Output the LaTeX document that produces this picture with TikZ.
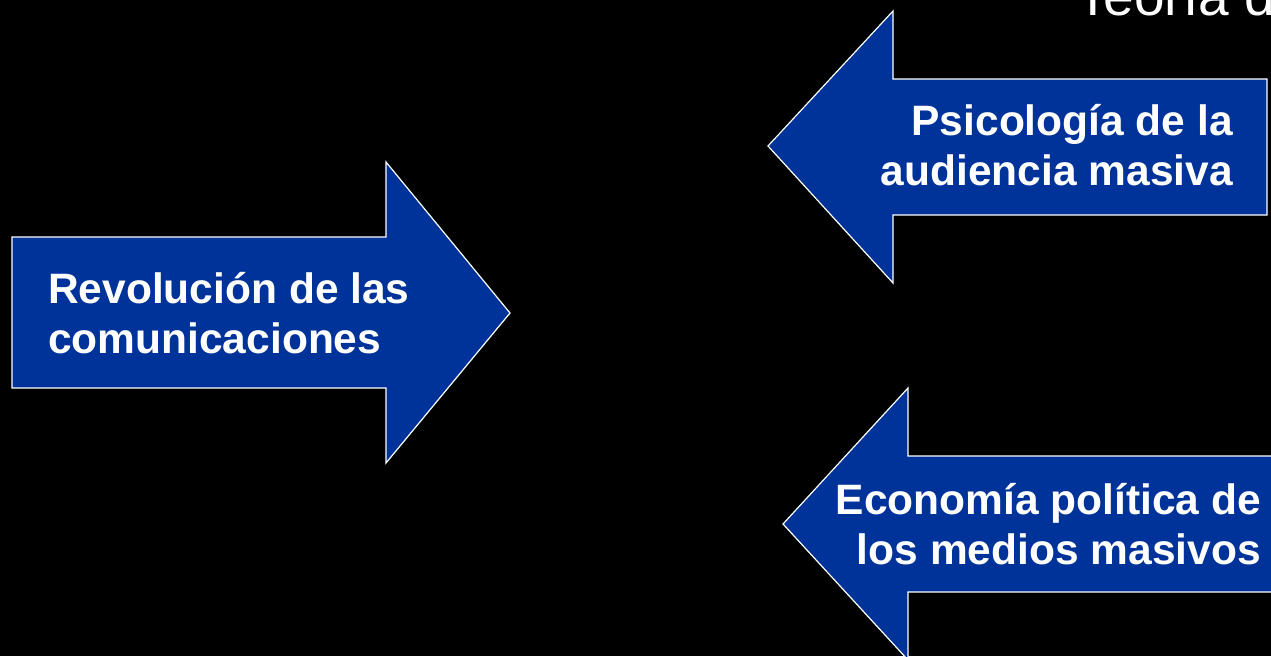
\documentclass[tikz,border=0pt]{standalone}
\usepackage{fontspec}
\setmainfont{Liberation Sans}
\usetikzlibrary{positioning}

\definecolor{arrowblue}{RGB}{0,51,153}

\begin{document}
\begin{tikzpicture}[x=1pt, y=-1pt,
    line join=miter,
    bigarrow/.style={fill=arrowblue, draw=white, line width=1.2pt},
    arrowtext/.style={text=white, inner sep=0pt,
        font=\bfseries\fontsize{42.5}{49.5}\selectfont}]
\def\W{1271}
\def\H{656}

% BACKGROUND
\fill[black] (0,0) rectangle (\W,\H);
\useasboundingbox (0,0) rectangle (\W,\H);
\clip (0,0) rectangle (\W,\H);

% TITLE (cut by the frame)
\node[text=white, inner sep=0pt, anchor=base west,
      font=\fontsize{55}{62}\selectfont] (titulo) at (1076,15) {Teoría d};

% ARROWS
\draw[bigarrow] (12,237) -- (386,237) -- (386,162) -- (510,313)
    -- (386,463) -- (386,388) -- (12,388) -- cycle;
\draw[bigarrow] (1267,79) -- (893,79) -- (893,11) -- (768,146)
    -- (893,283) -- (893,215) -- (1267,215) -- cycle;
\draw[bigarrow] (1290,456) -- (908,456) -- (908,388) -- (783,524)
    -- (908,660) -- (908,592) -- (1290,592) -- cycle;

% TEXTS (base = last line)
\node[arrowtext, anchor=base west, align=left] (revolucion) at (48,353)
    {Revolución de las\\comunicaciones};
\node[arrowtext, anchor=base east, align=right] (psicologia) at (1233,185)
    {Psicología de la\\audiencia masiva};
\node[arrowtext, anchor=base east, align=right] (economia) at (1261,564)
    {Economía política de\\los medios masivos};

\end{tikzpicture}
\end{document}
